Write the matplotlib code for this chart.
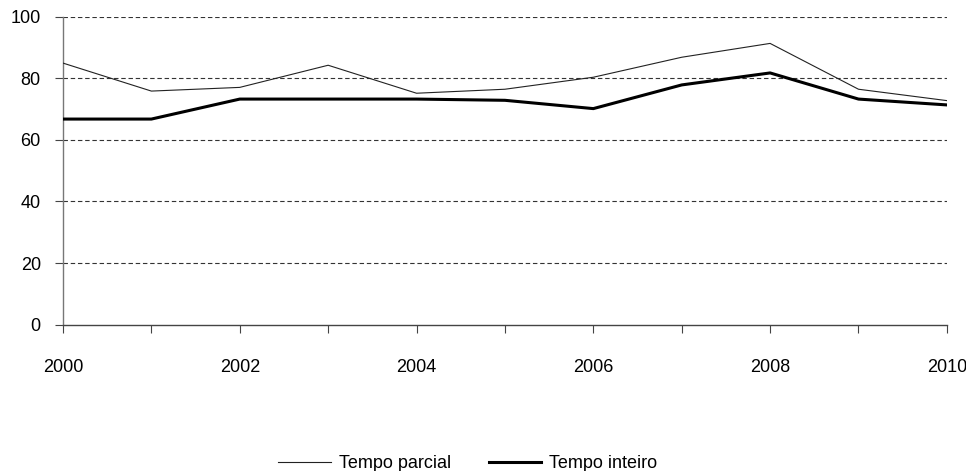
import matplotlib
matplotlib.use("Agg")
import matplotlib.pyplot as plt

plt.rcParams['font.family'] = ['Liberation Sans', 'DejaVu Sans']

years = [2000, 2001, 2002, 2003, 2004, 2005, 2006, 2007, 2008, 2009, 2010]
tempo_parcial = [85.0, 75.9, 77.1, 84.3, 75.2, 76.5, 80.4, 86.9, 91.4, 76.5, 72.8]
tempo_inteiro = [66.8, 66.8, 73.3, 73.3, 73.3, 72.9, 70.2, 77.9, 81.8, 73.3, 71.4]
yticks = [0, 20, 40, 60, 80, 100]
xticklabels = [2000, 2002, 2004, 2006, 2008, 2010]

fig = plt.figure(figsize=(9.66, 4.71), dpi=100)
ax = fig.add_axes([0.0652, 0.311, 0.915, 0.653])

for y in yticks[1:]:
    ax.axhline(y, color='#333333', lw=0.8, ls=(0, (4, 2.5)), zorder=1)

ax.plot(years, tempo_parcial, color='#222222', lw=0.8, label='Tempo parcial', zorder=3)
ax.plot(years, tempo_inteiro, color='black', lw=2.2, label='Tempo inteiro', zorder=3)

ax.set_xlim(2000, 2010)
ax.set_ylim(0, 100)
ax.set_yticks(yticks)
ax.set_xticks(years)
ax.set_xticklabels([str(y) if y in xticklabels else '' for y in years])

for side in ['top', 'right']:
    ax.spines[side].set_visible(False)
ax.spines['left'].set_color('#777777')
ax.spines['bottom'].set_color('#444444')
ax.spines['left'].set_linewidth(1.0)
ax.spines['bottom'].set_linewidth(1.0)

ax.tick_params(axis='x', direction='out', length=6, width=0.8, color='#444444', pad=19, labelsize=13)
ax.tick_params(axis='y', direction='out', length=6, width=0.8, color='#444444', pad=10, labelsize=13)

fig.legend(loc='lower center', bbox_to_anchor=(0.4845, -0.037), ncol=2, frameon=False,
           fontsize=13, handlelength=2.9, columnspacing=2.1, handletextpad=0.45)

fig.savefig('out.png', dpi=100)
